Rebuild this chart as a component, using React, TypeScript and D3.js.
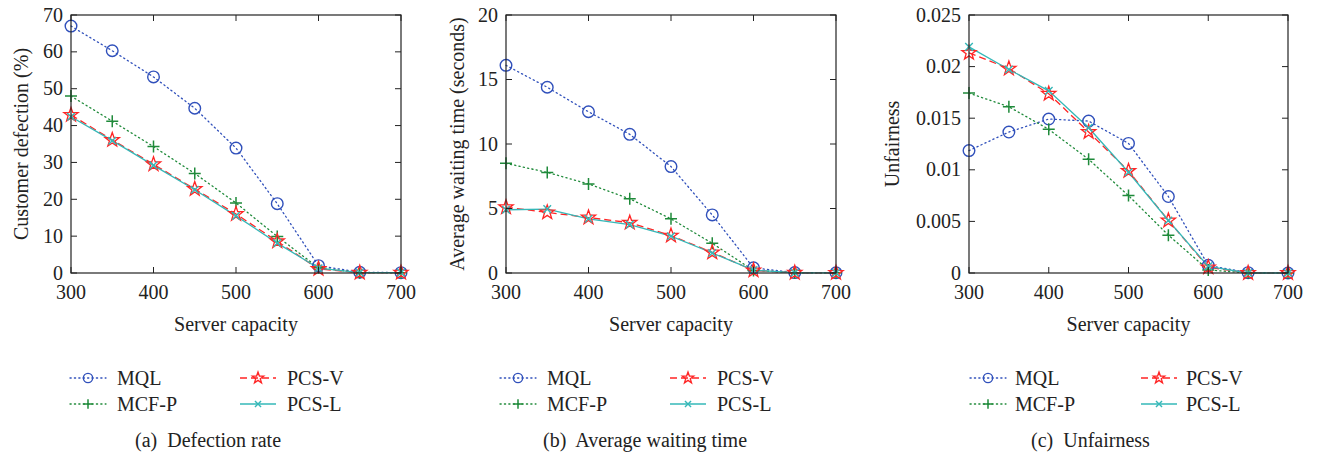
import React from "react";
import * as d3 from "d3";

const capacity = [300, 350, 400, 450, 500, 550, 600, 650, 700];
const xTicks = [300, 400, 500, 600, 700];
const seriesNames = ["MQL", "MCF-P", "PCS-V", "PCS-L"];

// (a) Defection rate (%)
const defMQL = [67.0, 60.3, 53.2, 44.7, 33.9, 18.8, 2.0, 0.2, 0.1];
const defMCFP = [48.0, 41.2, 34.3, 27.0, 19.0, 9.9, 1.4, 0.1, 0.1];
const defPCSV = [42.9, 36.1, 29.5, 22.8, 16.0, 8.6, 1.1, 0.1, 0.1];
const defPCSL = [42.4, 35.9, 29.2, 22.6, 15.5, 8.1, 1.3, 0.1, 0.1];
const defTicks = [0, 10, 20, 30, 40, 50, 60, 70];

// (b) Average waiting time (seconds)
const waitMQL = [16.1, 14.4, 12.5, 10.75, 8.25, 4.5, 0.4, 0.03, 0.02];
const waitMCFP = [8.5, 7.8, 6.9, 5.75, 4.2, 2.3, 0.2, 0.02, 0.01];
const waitPCSV = [5.1, 4.7, 4.3, 3.9, 2.9, 1.6, 0.2, 0.02, 0.01];
const waitPCSL = [4.9, 4.95, 4.2, 3.75, 2.85, 1.55, 0.22, 0.02, 0.01];
const waitTicks = [0, 5, 10, 15, 20];

// (c) Unfairness
const unfMQL = [0.01186, 0.01366, 0.01492, 0.01472, 0.01256, 0.00741, 0.00074, 0.00003, 0.0];
const unfMCFP = [0.01743, 0.01611, 0.01392, 0.01102, 0.0075, 0.00367, 0.0003, 0.0, 0.0];
const unfPCSV = [0.02133, 0.01981, 0.01737, 0.01366, 0.00989, 0.00509, 0.00055, 0.0, 0.0];
const unfPCSL = [0.02191, 0.01972, 0.01765, 0.01408, 0.00976, 0.00509, 0.00064, 0.0, 0.0];
const unfTicks = [0, 0.005, 0.01, 0.015, 0.02, 0.025];

const COLORS = ["#3050bb", "#1f8a3a", "#ff2525", "#35b8b8"];
const DASH = ["1.2,3.2", "1.2,3.2", "7,4", null];
const MARK = ["circle", "plus", "star", "x"];

const FONT = "'Liberation Serif', 'Times New Roman', serif";
const TOP = 15;
const BOTTOM = 273;

function starPath(R: number) {
  const r = R * 0.4;
  const pts: string[] = [];
  for (let i = 0; i < 10; i++) {
    const a = (-90 + i * 36) * Math.PI / 180;
    const rr = i % 2 === 0 ? R : r;
    pts.push(`${(rr * Math.cos(a)).toFixed(2)},${(rr * Math.sin(a)).toFixed(2)}`);
  }
  return "M" + pts.join("L") + "Z";
}

function Marker({ type, x, y, color, s = 1 }: { type: string; x: number; y: number; color: string; s?: number }) {
  const t = `translate(${x},${y}) scale(${s})`;
  if (type === "circle") return <circle cx={x} cy={y} r={5.8 * s} fill="none" stroke={color} strokeWidth={1.4} />;
  if (type === "plus") return <path transform={t} d="M-6,0H6M0,-6V6" stroke={color} strokeWidth={1.5 / s} fill="none" />;
  if (type === "star") return <path transform={t} d={starPath(7.5)} stroke={color} strokeWidth={1.3 / s} fill="none" />;
  return <path transform={t} d="M-3.8,-3.8L3.8,3.8M-3.8,3.8L3.8,-3.8" stroke={color} strokeWidth={1.4 / s} fill="none" />;
}

type PanelProps = {
  x0: number;
  x1: number;
  yMax: number;
  yTicks: number[];
  series: number[][];
  yLabel: string;
  yLabelX: number;
  legendX: number[];
  legendTextDx: number;
  caption: string;
  captionX: number;
};

function Panel(p: PanelProps) {
  const xs = d3.scaleLinear().domain([300, 700]).range([p.x0, p.x1]);
  const ys = d3.scaleLinear().domain([0, p.yMax]).range([BOTTOM, TOP]);
  const line = d3
    .line<number>()
    .x((_, i) => xs(capacity[i]))
    .y((d) => ys(d));
  const tl = 6;
  const fmt = (v: number) => String(+v.toFixed(4));
  const legendRows = [378, 404];
  return (
    <g>
      {p.series.map((s, k) => (
        <path
          key={"l" + k}
          d={line(s) || ""}
          fill="none"
          stroke={COLORS[k]}
          strokeWidth={1.3}
          strokeDasharray={DASH[k] || undefined}
          strokeLinecap={DASH[k] && k < 2 ? "round" : "butt"}
        />
      ))}
      {p.series.map((s, k) =>
        s.map((v, i) => <Marker key={`m${k}-${i}`} type={MARK[k]} x={xs(capacity[i])} y={ys(v)} color={COLORS[k]} />)
      )}
      <rect x={p.x0} y={TOP} width={p.x1 - p.x0} height={BOTTOM - TOP} fill="none" stroke="#222" strokeWidth={1.2} />
      {xTicks.map((t) => (
        <g key={"xt" + t}>
          <line x1={xs(t)} x2={xs(t)} y1={BOTTOM} y2={BOTTOM - tl} stroke="#222" />
          <line x1={xs(t)} x2={xs(t)} y1={TOP} y2={TOP + tl} stroke="#222" />
          <text x={xs(t)} y={299} textAnchor="middle" fontFamily={FONT} fontSize={20} fill="#222">
            {t}
          </text>
        </g>
      ))}
      {p.yTicks.map((t) => (
        <g key={"yt" + t}>
          <line x1={p.x0} x2={p.x0 + tl} y1={ys(t)} y2={ys(t)} stroke="#222" />
          <line x1={p.x1} x2={p.x1 - tl} y1={ys(t)} y2={ys(t)} stroke="#222" />
          <text x={p.x0 - 8} y={ys(t)} dy="0.33em" textAnchor="end" fontFamily={FONT} fontSize={20} fill="#222">
            {fmt(t)}
          </text>
        </g>
      ))}
      <text
        transform={`translate(${p.yLabelX},${(TOP + BOTTOM) / 2}) rotate(-90)`}
        dy="0.35em"
        textAnchor="middle"
        fontFamily={FONT}
        fontSize={20}
        fill="#222"
      >
        {p.yLabel}
      </text>
      <text x={(p.x0 + p.x1) / 2} y={331} textAnchor="middle" fontFamily={FONT} fontSize={20} fill="#222">
        Server capacity
      </text>
      {seriesNames.map((name, k) => {
        const col = k < 2 ? 0 : 1;
        const row = k % 2;
        const lx = p.legendX[col];
        const ly = legendRows[row];
        const lw = 36;
        return (
          <g key={"lg" + k}>
            <line
              x1={lx}
              x2={lx + lw}
              y1={ly}
              y2={ly}
              stroke={COLORS[k]}
              strokeWidth={1.3}
              strokeDasharray={DASH[k] || undefined}
              strokeLinecap={DASH[k] && k < 2 ? "round" : "butt"}
            />
            <Marker type={MARK[k]} x={lx + lw / 2} y={ly} color={COLORS[k]} s={0.8} />
            <text x={lx + lw + p.legendTextDx} y={ly + 6.5} fontFamily={FONT} fontSize={20} fill="#222">
              {name}
            </text>
          </g>
        );
      })}
      <text x={p.captionX} y={447} fontFamily={FONT} fontSize={20} fill="#222" style={{ whiteSpace: "pre" }}>
        {p.caption}
      </text>
    </g>
  );
}

export default function App() {
  return (
    <svg width={1318} height={455} style={{ position: "absolute", left: 0, top: 0, background: "#fff" }}>
      <rect width={1318} height={455} fill="#fff" />
      <Panel
        x0={71}
        x1={401}
        yMax={70}
        yTicks={defTicks}
        series={[defMQL, defMCFP, defPCSV, defPCSL]}
        yLabel="Customer defection (%)"
        yLabelX={21}
        legendX={[70, 240]}
        legendTextDx={11}
        caption="(a)  Defection rate"
        captionX={135}
      />
      <Panel
        x0={506}
        x1={836}
        yMax={20}
        yTicks={waitTicks}
        series={[waitMQL, waitMCFP, waitPCSV, waitPCSL]}
        yLabel="Average waiting time (seconds)"
        yLabelX={457}
        legendX={[500, 670]}
        legendTextDx={11}
        caption="(b)  Average waiting time"
        captionX={543}
      />
      <Panel
        x0={969}
        x1={1288}
        yMax={0.025}
        yTicks={unfTicks}
        series={[unfMQL, unfMCFP, unfPCSV, unfPCSL]}
        yLabel="Unfairness"
        yLabelX={892}
        legendX={[970, 1141]}
        legendTextDx={9}
        caption="(c)  Unfairness"
        captionX={1031}
      />
    </svg>
  );
}
